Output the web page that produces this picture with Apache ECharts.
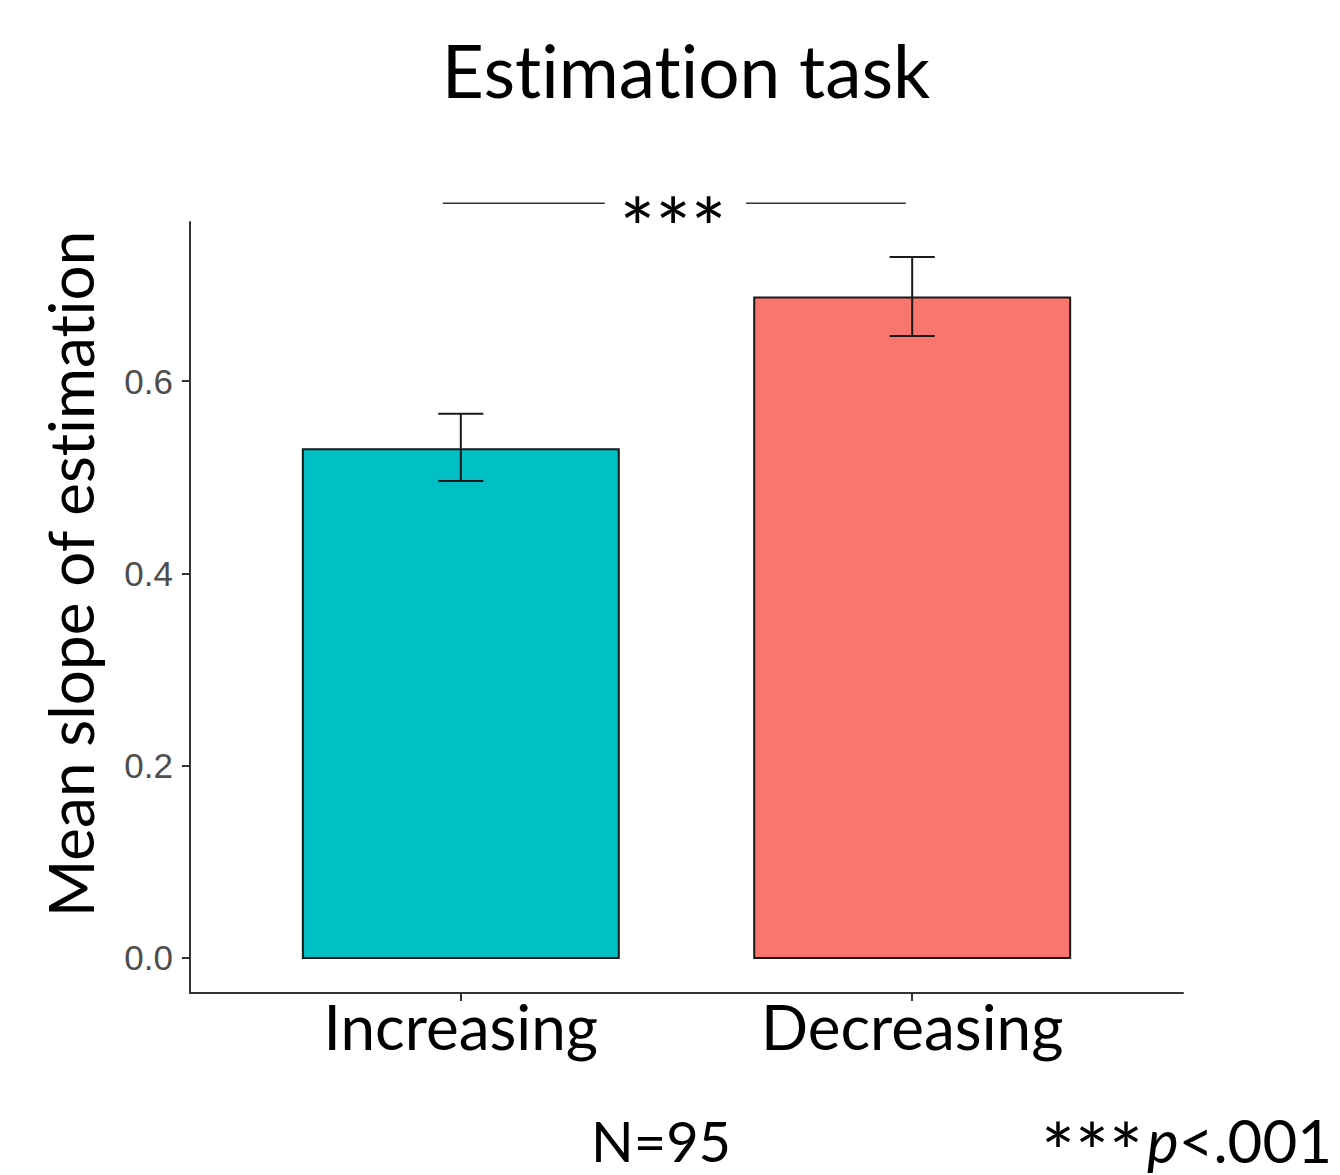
<!DOCTYPE html>
<html>
<head>
<meta charset="utf-8">
<script src="https://cdn.jsdelivr.net/npm/echarts@6/dist/echarts.min.js"></script>
<style>
  html, body { margin: 0; padding: 0; background: #fff; }
  #chart { width: 1340px; height: 1175px; }
  #chart svg text, #chart svg tspan { font-variant-ligatures: none !important; font-feature-settings: "liga" 0, "clig" 0, "dlig" 0, "calt" 0 !important; }
</style>
</head>
<body>
<div id="chart"></div>
<script>
// ---- data ----
var categories = ['Increasing', 'Decreasing'];
var means = [0.529, 0.687];
var errLow = [0.496, 0.647];
var errHigh = [0.566, 0.729];
var barColors = ['#00BFC4', '#F8766D'];
var yTicks = [0, 0.2, 0.4, 0.6];
var xPositions = [1, 2];
// significance bracket: [x start, x end, y] for the two line pieces
var sigSegments = [[0.96, 1.319, 0.785], [1.632, 1.986, 0.785]];
var sigLabel = '***';
var titleText = 'Estimation task';
var yTitle = 'Mean slope of estimation';
var nText = 'N=95';
var pStars = '***';
var pText = '<.001';

var FONT = 'Lato, "Open Sans", sans-serif';

var chart = echarts.init(document.getElementById('chart'), null, { renderer: 'svg' });

var barData = xPositions.map(function (x, i) { return [x, means[i], i]; });
var errData = xPositions.map(function (x, i) { return [x, errLow[i], errHigh[i]]; });

var option = {
  animation: false,
  backgroundColor: '#ffffff',
  grid: { left: 190, right: 157, top: 222, bottom: 182, containLabel: false },
  xAxis: {
    type: 'value', min: 0.4, max: 2.6,
    axisLine: { show: true, onZero: false, lineStyle: { color: '#333', width: 2 } },
    axisTick: { show: true, customValues: xPositions, length: 8, lineStyle: { color: '#333', width: 2 } },
    axisLabel: {
      customValues: xPositions,
      formatter: function (v) { return categories[Math.round(v) - 1] || ''; },
      color: '#000', fontFamily: FONT, fontSize: 62, margin: 2
    },
    splitLine: { show: false }
  },
  yAxis: {
    type: 'value', min: -0.03645, max: 0.7655,
    axisLine: { show: true, onZero: false, lineStyle: { color: '#333', width: 2 } },
    axisTick: { show: true, customValues: yTicks, length: 8, lineStyle: { color: '#333', width: 2 } },
    axisLabel: {
      customValues: yTicks,
      formatter: function (v) { return v.toFixed(1); },
      color: '#4d4d4d', fontFamily: '"Liberation Sans", Arial, sans-serif', fontSize: 35, margin: 17
    },
    splitLine: { show: false }
  },
  series: [
    {
      type: 'custom',
      data: barData,
      renderItem: function (params, api) {
        var x = api.value(0), y = api.value(1), idx = api.value(2);
        var p0 = api.coord([x - 0.35, y]);
        var p1 = api.coord([x + 0.35, 0]);
        return {
          type: 'rect',
          shape: { x: p0[0], y: p0[1], width: p1[0] - p0[0], height: p1[1] - p0[1] },
          style: { fill: barColors[idx], stroke: '#1a1a1a', lineWidth: 2 }
        };
      }
    },
    {
      type: 'custom',
      data: errData,
      renderItem: function (params, api) {
        var x = api.value(0), lo = api.value(1), hi = api.value(2);
        var a = api.coord([x, hi]), b = api.coord([x, lo]);
        var c1 = api.coord([x - 0.05, hi]), c2 = api.coord([x + 0.05, hi]);
        var d1 = api.coord([x - 0.05, lo]), d2 = api.coord([x + 0.05, lo]);
        var st = { stroke: '#1a1a1a', lineWidth: 2 };
        return {
          type: 'group',
          children: [
            { type: 'line', shape: { x1: a[0], y1: a[1], x2: b[0], y2: b[1] }, style: st },
            { type: 'line', shape: { x1: c1[0], y1: c1[1], x2: c2[0], y2: c2[1] }, style: st },
            { type: 'line', shape: { x1: d1[0], y1: d1[1], x2: d2[0], y2: d2[1] }, style: st }
          ]
        };
      }
    },
    {
      type: 'custom',
      clip: false,
      data: sigSegments,
      renderItem: function (params, api) {
        var a = api.coord([api.value(0), api.value(2)]);
        var b = api.coord([api.value(1), api.value(2)]);
        return {
          type: 'line',
          shape: { x1: a[0], y1: a[1], x2: b[0], y2: b[1] },
          style: { stroke: '#333', lineWidth: 1.5 }
        };
      }
    }
  ],
  graphic: [
    {
      type: 'text', x: 686, y: 70,
      style: { text: titleText, font: '73px ' + FONT, fill: '#000', textAlign: 'center', textVerticalAlign: 'middle' }
    },
    {
      type: 'text', x: 70, y: 574, rotation: Math.PI / 2,
      style: { text: yTitle, font: '62px ' + FONT, fill: '#000', textAlign: 'center', textVerticalAlign: 'middle' }
    },
    {
      type: 'text', x: 673, y: 226,
      style: { text: sigLabel, font: '84px ' + FONT, fill: '#000', textAlign: 'center', textVerticalAlign: 'middle' }
    },
    {
      type: 'text', x: 661, y: 1140,
      style: { text: nText, font: '56px ' + FONT, lineHeight: 44, fill: '#000', textAlign: 'center', textVerticalAlign: 'middle' }
    },
    {
      type: 'text', x: 1143, y: 1150,
      style: { text: pStars, font: '80px ' + FONT, lineHeight: 30, fill: '#000', textAlign: 'right', textVerticalAlign: 'middle' }
    },
    {
      type: 'text', x: 1332, y: 1140,
      style: {
        text: '{p|p}{a|' + pText + '}',
        textAlign: 'right', textVerticalAlign: 'middle',
        rich: {
          a: { font: '60px ' + FONT, lineHeight: 44, fill: '#000' },
          p: { font: 'italic 60px ' + FONT, lineHeight: 44, fill: '#000' }
        }
      }
    }
  ]
};
chart.setOption(option);
</script>
</body>
</html>
